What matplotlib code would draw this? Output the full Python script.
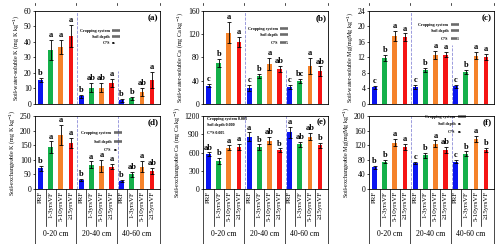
import numpy as np
import matplotlib.pyplot as plt

plt.rcParams.update({
    'font.family': ['Liberation Serif', 'DejaVu Serif'],
    'font.size': 5,
    'axes.linewidth': 0.6,
})

treatments = ['PRF', '1-3yrsVF', '5-10yrsVF', '≥15yrsVF']
depths = ['0-20 cm', '20-40 cm', '40-60 cm']
colors = ['#0a14f0', '#14b04a', '#f5822a', '#f51414']

# values: 3 depths x 4 treatments, flattened
ws_k = [15.5, 35, 36.5, 44, 5, 10.4, 10.5, 13.6, 2.4, 3.6, 7.9, 15.6]
ws_k_err = [1.5, 6.5, 4.5, 7, 1, 3, 3, 2.5, 1, 1.2, 2.5, 5]
ws_k_let = ['b', 'a', 'a', 'a', 'b', 'ab', 'ab', 'a', 'b', 'b', 'ab', 'a']

ws_ca = [31.5, 71, 122.5, 107, 28, 48, 69, 60, 29, 39.5, 65, 56.5]
ws_ca_err = [3, 7, 18, 9, 5, 3, 10, 5, 3, 4, 14, 8]
ws_ca_let = ['c', 'b', 'a', 'a', 'c', 'b', 'a', 'ab', 'c', 'bc', 'a', 'ab']

ws_mg = [4.25, 11.9, 17.6, 17.2, 4.3, 8.85, 12.7, 12.7, 4.6, 8.3, 12.5, 12.1]
ws_mg_err = [0.3, 0.8, 1.3, 1.0, 0.5, 0.5, 1.0, 0.6, 0.4, 0.5, 1.0, 0.7]
ws_mg_let = ['c', 'b', 'a', 'a', 'c', 'b', 'a', 'a', 'c', 'b', 'a', 'a']

ex_k = [70.5, 143, 184, 157, 32, 83, 80, 77, 28, 51, 77, 62.5]
ex_k_err = [8, 20, 35, 18, 3, 12, 20, 10, 3, 8, 20, 10]
ex_k_let = ['b', 'a', 'a', 'a', 'b', 'a', 'a', 'a', 'b', 'ab', 'a', 'ab']

ex_ca = [573, 464, 677, 688, 862, 683, 792, 639, 934, 738, 862, 721]
ex_ca_err = [30, 45, 40, 50, 70, 50, 60, 30, 90, 40, 60, 40]
ex_ca_let = ['ab', 'b', 'a', 'a', 'a', 'b', 'ab', 'b', 'a', 'ab', 'ab', 'b']

ex_mg = [60, 75, 126.5, 115.5, 71.5, 92, 124, 108, 75, 97, 137.5, 107]
ex_mg_err = [4, 4, 10, 8, 2, 6, 9, 8, 5, 6, 8, 5]
ex_mg_let = ['b', 'b', 'a', 'a', 'c', 'b', 'a', 'ab', 'c', 'b', 'a', 'b']

x = np.arange(12)
bar_colors = colors * 3
xl = (-0.55, 11.78)

fig = plt.figure(figsize=(5, 2.44), dpi=100)
cols = [0.07, 0.406, 0.738]
w = 0.25
top_row = [fig.add_axes([c, 0.574, w, 0.381]) for c in cols]
bot_row = [fig.add_axes([c, 0.225, w, 0.30]) for c in cols]

ST = 3.0  # stats font size


def draw(ax, vals, errs, lets, ymax, step, ylabel, tag):
    ax.bar(x, vals, width=0.47, color=bar_colors)
    ax.errorbar(x, vals, yerr=errs, fmt='none', ecolor='black', elinewidth=0.6, capsize=1.4, capthick=0.6)
    for xi, v, e, l in zip(x, vals, errs, lets):
        ax.text(xi, v + e + ymax * 0.01, l, ha='center', va='bottom', fontsize=6, fontweight='bold')
    ax.set_xlim(*xl)
    ax.set_ylim(0, ymax)
    ax.set_yticks(np.arange(0, ymax + step / 2, step))
    ax.tick_params(axis='y', length=1.5, width=0.5, pad=1, labelsize=5.6)
    ax.set_ylabel(ylabel, fontsize=4.4, labelpad=2)
    ax.text(0.985, 0.965, tag, transform=ax.transAxes, ha='right', va='top', fontsize=6.5, fontweight='bold')


def stats(ax, xs, ys, labels, values):
    for y, lab, val in zip(ys, labels, values):
        ax.text(xs, y, lab, transform=ax.transAxes, ha='right', va='center', fontsize=ST, fontweight='bold')
        ax.text(xs + 0.018, y, val, transform=ax.transAxes, ha='left', va='center', fontsize=ST, fontweight='bold')


stat_names = ['Cropping system', 'Soil depth', 'C*S']

draw(top_row[0], ws_k, ws_k_err, ws_k_let, 60, 10, 'Soil-water-soluble K (mg K kg$^{-1}$)', '(a)')
draw(top_row[1], ws_ca, ws_ca_err, ws_ca_let, 160, 40, 'Soil-water-soluble Ca (mg Ca kg$^{-1}$)', '(b)')
draw(top_row[2], ws_mg, ws_mg_err, ws_mg_let, 24, 4, 'Soil-water-soluble Mg(mgMg kg$^{-1}$)', '(c)')
draw(bot_row[0], ex_k, ex_k_err, ex_k_let, 250, 50, 'Soil-exchangeable K (mg K kg$^{-1}$)', '(d)')
draw(bot_row[1], ex_ca, ex_ca_err, ex_ca_let, 1200, 300, 'Soil-exchangeable Ca (mg Ca kg$^{-1}$)', '(e)')
draw(bot_row[2], ex_mg, ex_mg_err, ex_mg_let, 200, 40, 'Soil-exchangeable Mg(mgMg kg$^{-1}$)', '(f)')

stats(top_row[0], 0.6, [0.79, 0.725, 0.655], stat_names, ['0.000', '0.000', 'ns'])
stats(top_row[1], 0.6, [0.806, 0.742, 0.656], stat_names, ['0.000', '0.000', '0.005'])
stats(top_row[2], 0.635, [0.85, 0.785, 0.70], stat_names, ['0.000', '0.000', '0.001'])
stats(bot_row[0], 0.61, [0.76, 0.65, 0.53], stat_names, ['0.000', '0.000', 'ns'])
stats(bot_row[2], 0.69, [0.985, 0.89, 0.78], stat_names, ['0.000', 'ns', 'ns'])
for y, s in zip([0.96, 0.88, 0.77], ['Cropping system 0.003', 'Soil depth 0.000', 'C*S 0.005']):
    bot_row[1].text(0.03, y, s, transform=bot_row[1].transAxes, ha='left', va='center', fontsize=ST, fontweight='bold')

# dashed dividers between depth groups
dash_tops = [(1.0, 0.355), (1.0, 0.36), (1.0, 0.63), (1.0, 1.0), (1.0, 1.0), (1.0, 1.0)]
for ax, (t1, t2) in zip(top_row + bot_row, dash_tops):
    ax.axvline(3.55, ymax=t1, ls='--', color='#8c8cd8', lw=0.6)
    ax.axvline(7.6, ymax=t2, ls='--', color='#8c8cd8', lw=0.6)

group_edges = [xl[0], 3.5, 7.5, xl[1]]
for ax in top_row:
    ax.set_xticks([])
    for g in group_edges:
        ax.plot([g, g], [1.06, 1.09], transform=ax.get_xaxis_transform(), color='black', lw=0.5, clip_on=False)

for ax in bot_row:
    ax.set_xticks(x)
    ax.set_xticklabels(treatments * 3, rotation=90, fontsize=5)
    ax.tick_params(axis='x', length=0, pad=1.5)
    trans = ax.get_xaxis_transform()
    for s in [0.5, 1.5, 2.5, 4.5, 5.5, 6.5, 8.5, 9.5, 10.5]:
        ax.plot([s, s], [0, -0.5], transform=trans, color='black', lw=0.5, clip_on=False)
    for g in group_edges:
        ax.plot([g, g], [0, -0.78], transform=trans, color='black', lw=0.5, clip_on=False)
    for i, d in enumerate(depths):
        ax.text(1.5 + 4 * i, -0.61, d, transform=trans, ha='center', va='center', fontsize=5.6)

fig.savefig('out.png', dpi=100)
